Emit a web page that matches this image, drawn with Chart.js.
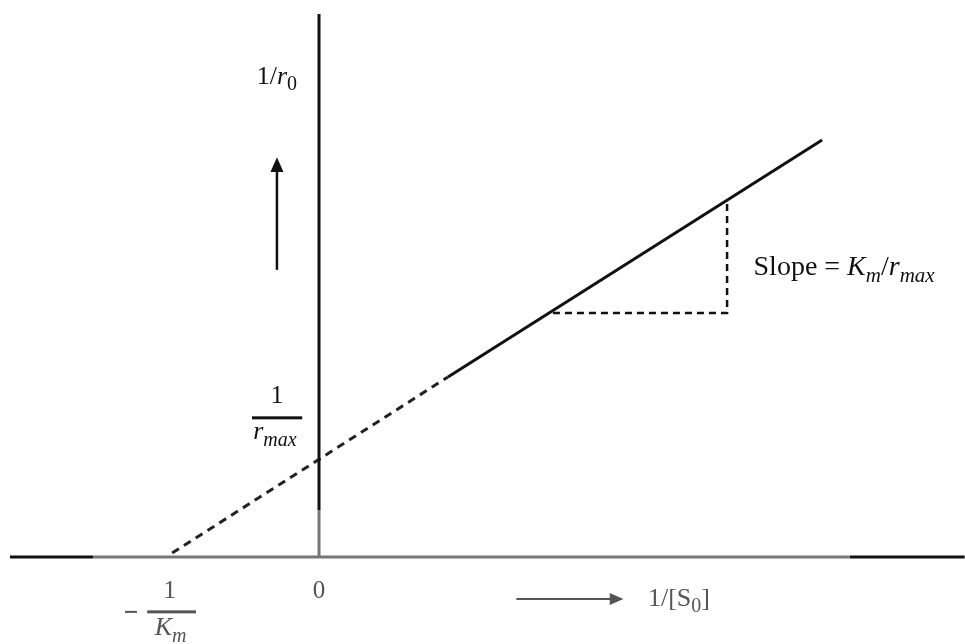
<!DOCTYPE html>
<html>
<head>
<meta charset="utf-8">
<script src="https://cdn.jsdelivr.net/npm/chart.js@4.4.1/dist/chart.umd.min.js"></script>
<style>
  body { margin: 0; background: #fff; }
  #wrap { width: 965px; height: 644px; }
</style>
</head>
<body>
<div id="wrap"><canvas id="myChart"></canvas></div>
<script>
// Lineweaver-Burk plot: 1/r0 vs 1/[S0]
// x in units of 1/Km, y in units of 1/rmax
const extrapX = [-0.96, 0.843];     // dashed extrapolation
const extrapY = [0.04, 1.837];
const measuredX = [0.843, 3.288];   // solid measured range
const measuredY = [1.837, 4.255];
const triX = [1.529, 2.667, 2.667]; // slope triangle
const triY = [2.49, 2.49, 3.61];

const xAxisBlackL = [-2.02, -1.477];
const xAxisGray = [-1.477, 3.47];
const xAxisBlackR = [3.47, 4.22];
const yAxisGray = [0, 0.48];
const yAxisBlack = [0.48, 5.54];

function pts(xs, ys) {
  return xs.map((x, i) => ({ x: x, y: ys[i] }));
}

const SERIF = '"Liberation Serif", "DejaVu Serif", serif';

// draw text made of parts: [text, 'i' italic / 's' subscript / 'is']
function drawRich(ctx, parts, x, y, size, align, color) {
  const fontOf = (st) => (st.includes('i') ? 'italic ' : '') +
    (st.includes('s') ? Math.round(size * 0.75) : size) + 'px ' + SERIF;
  let w = 0;
  parts.forEach(p => { ctx.font = fontOf(p[1] || ''); w += ctx.measureText(p[0]).width; });
  let cx = align === 'center' ? x - w / 2 : (align === 'right' ? x - w : x);
  ctx.fillStyle = color;
  ctx.textAlign = 'left';
  ctx.textBaseline = 'alphabetic';
  parts.forEach(p => {
    const st = p[1] || '';
    ctx.font = fontOf(st);
    ctx.fillText(p[0], cx, y + (st.includes('s') ? size * 0.25 : 0));
    cx += ctx.measureText(p[0]).width;
  });
}

const annotations = {
  id: 'annotations',
  afterDatasetsDraw(chart) {
    const ctx = chart.ctx;
    const xs = chart.scales.x, ys = chart.scales.y;
    const px = v => xs.getPixelForValue(v);
    const py = v => ys.getPixelForValue(v);
    ctx.save();

    // up arrow beside the y axis
    const ax = px(-0.275);
    ctx.strokeStyle = '#111';
    ctx.fillStyle = '#111';
    ctx.lineWidth = 2.5;
    ctx.beginPath();
    ctx.moveTo(ax, py(2.93));
    ctx.lineTo(ax, py(4.0));
    ctx.stroke();
    ctx.beginPath();
    ctx.moveTo(ax, py(4.08));
    ctx.lineTo(ax - 6.5, py(3.93));
    ctx.lineTo(ax + 6.5, py(3.93));
    ctx.closePath();
    ctx.fill();

    // right arrow under the x axis
    const ay = py(-0.43);
    ctx.strokeStyle = '#555';
    ctx.fillStyle = '#555';
    ctx.lineWidth = 2;
    ctx.beginPath();
    ctx.moveTo(px(1.29), ay);
    ctx.lineTo(px(1.92), ay);
    ctx.stroke();
    ctx.beginPath();
    ctx.moveTo(px(1.99), ay);
    ctx.lineTo(px(1.90), ay - 6);
    ctx.lineTo(px(1.90), ay + 6);
    ctx.closePath();
    ctx.fill();

    // labels
    drawRich(ctx, [['1/'], ['r', 'i'], ['0', 's']], px(-0.275), py(4.83), 26, 'center', '#111');

    // 1 / rmax fraction
    const fx = px(-0.275);
    drawRich(ctx, [['1']], fx, py(1.57), 25, 'center', '#111');
    ctx.fillStyle = '#111';
    ctx.fillRect(px(-0.438), py(1.42) - 1.5, px(-0.11) - px(-0.438), 3);
    drawRich(ctx, [['r', 'i'], ['max', 'is']], fx - 2, py(1.2), 26, 'center', '#111');

    drawRich(ctx, [['Slope = '], ['K', 'i'], ['m', 'is'], ['/'], ['r', 'i'], ['max', 'is']],
      px(2.84), py(2.88), 28, 'left', '#111');

    // tick labels
    drawRich(ctx, [['0']], px(0), py(-0.42), 25, 'center', '#555');
    ctx.fillStyle = '#555';
    ctx.fillRect(px(-1.268), py(-0.56) - 1, px(-1.19) - px(-1.268), 2);
    drawRich(ctx, [['1']], px(-0.975), py(-0.42), 25, 'center', '#555');
    ctx.fillStyle = '#555';
    ctx.fillRect(px(-1.123), py(-0.56) - 1.5, px(-0.804) - px(-1.123), 3);
    drawRich(ctx, [['K', 'i'], ['m', 'is']], px(-0.97), py(-0.8), 26, 'center', '#555');

    drawRich(ctx, [['1/[S'], ['0', 's'], [']']], px(2.15), py(-0.5), 26, 'left', '#555');

    ctx.restore();
  }
};

const line = (data, color, width, dash) => ({
  data: data,
  showLine: true,
  borderColor: color,
  borderWidth: width,
  borderDash: dash || [],
  pointRadius: 0,
  fill: false
});

new Chart('myChart', {
  type: 'scatter',
  data: {
    datasets: [
      line(pts(xAxisGray, [0, 0]), '#777', 3),
      line(pts(xAxisBlackL, [0, 0]), '#111', 3),
      line(pts(xAxisBlackR, [0, 0]), '#111', 3),
      line(pts([0, 0], yAxisGray), '#777', 3),
      line(pts([0, 0], yAxisBlack), '#111', 3),
      line(pts(extrapX, extrapY), '#222', 3, [8, 6]),
      line(pts(measuredX, measuredY), '#111', 3),
      line(pts(triX, triY), '#111', 2.5, [7, 5])
    ]
  },
  options: {
    responsive: true,
    maintainAspectRatio: false,
    animation: false,
    layout: { padding: 0 },
    plugins: { legend: { display: false }, tooltip: { enabled: false } },
    scales: {
      x: { type: 'linear', display: false, min: -2.085, max: 4.222 },
      y: { type: 'linear', display: false, min: -0.888, max: 5.684 }
    }
  },
  plugins: [annotations]
});
</script>
</body>
</html>
